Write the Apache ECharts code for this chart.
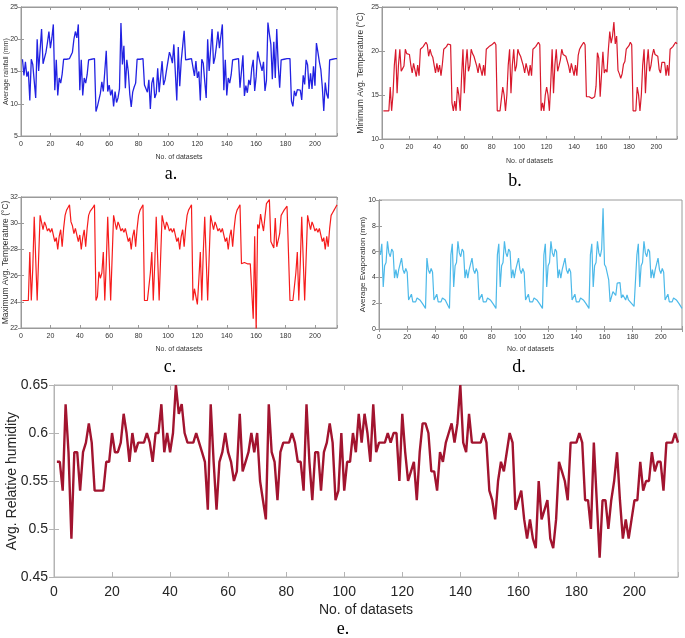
<!DOCTYPE html>
<html>
<head>
<meta charset="utf-8">
<title>Weather datasets</title>
<script src="https://cdn.jsdelivr.net/npm/echarts@6/dist/echarts.min.js"></script>
<style>
  html, body { margin: 0; padding: 0; background: #fff; }
  #chart { width: 685px; height: 638px; }
</style>
</head>
<body>
<div id="chart"></div>
<script>
// values, dataset no. 1..215
const rainfall = [
  16.9, 14.4, 16.5, 14.2, 15.0, 10.5, 16.9, 16.1, 13.5, 10.9,
  20.0, 15.1, 15.2, 21.6, 16.2, 17.1, 18.0, 19.5, 21.2, 18.6,
  20.2, 22.3, 12.1, 16.8, 11.3, 14.0, 13.2, 14.6, 16.9, 16.9,
  16.9, 17.0, 17.0, 17.0, 18.0, 20.0, 21.2, 20.2, 22.3, 12.1,
  16.8, 11.3, 14.0, 13.2, 14.5, 16.8, 16.9, 16.9, 17.0, 17.0,
  8.8, 9.6, 10.6, 11.6, 13.4, 11.9, 15.0, 18.2, 11.9, 12.9,
  11.3, 12.2, 9.6, 11.9, 10.2, 10.9, 12.3, 22.5, 16.1, 19.0,
  12.4, 16.8, 15.0, 11.5, 9.5, 11.8, 12.6, 13.2, 16.9, 16.9,
  16.9, 17.0, 17.0, 12.9, 12.8, 11.8, 13.7, 9.2, 13.2, 14.1,
  10.9, 11.6, 15.5, 11.8, 12.0, 16.6, 12.9, 13.7, 15.2, 16.6,
  18.0, 17.3, 16.3, 19.2, 19.4, 10.5, 18.8, 12.7, 16.6, 16.5,
  21.3, 16.8, 16.9, 16.9, 16.9, 17.0, 17.0, 14.3, 16.6, 14.0,
  15.0, 10.5, 16.9, 16.3, 13.5, 10.9, 20.0, 15.1, 15.2, 21.6,
  16.2, 17.2, 19.0, 21.2, 18.6, 20.5, 22.3, 12.1, 16.8, 11.3,
  14.0, 13.2, 14.5, 16.8, 16.9, 16.9, 17.0, 17.0, 12.5, 12.8,
  17.5, 11.2, 12.8, 11.7, 13.7, 12.9, 15.5, 16.8, 12.0, 14.2,
  18.1, 17.0, 16.9, 15.1, 16.5, 12.0, 13.6, 22.6, 20.8, 19.2,
  13.8, 19.6, 14.0, 21.6, 16.0, 12.5, 16.8, 16.9, 16.9, 17.0,
  17.0, 17.0, 17.0, 10.4, 9.6, 12.0, 11.2, 12.2, 11.9, 12.1,
  10.6, 14.4, 13.0, 16.8, 16.0, 12.3, 14.7, 12.3, 15.8, 12.8,
  19.4, 18.0, 16.5, 15.3, 12.6, 8.9, 13.3, 11.5, 10.8, 16.8,
  16.9, 16.9, 16.9, 17.0, 17.0
];

const minTemp = [
  13.2, 13.2, 13.2, 13.2, 13.2, 15.9, 13.2, 15.0, 18.4, 20.2,
  15.2, 18.4, 20.2, 17.7, 18.0, 18.3, 20.2, 19.7, 19.5, 19.6,
  18.4, 17.5, 18.6, 18.8, 17.1, 18.4, 17.2, 20.2, 20.3, 20.5,
  20.7, 21.0, 20.7, 19.4, 20.2, 19.6, 19.3, 18.4, 17.5, 18.6,
  17.6, 18.4, 17.2, 18.5, 20.2, 20.4, 20.5, 20.8, 21.0, 20.7,
  14.1, 13.2, 14.3, 13.2, 15.9, 15.0, 13.2, 17.1, 20.2, 15.2,
  18.4, 20.2, 17.7, 18.3, 20.2, 19.7, 19.4, 19.5, 18.3, 17.5,
  18.6, 18.7, 17.2, 18.4, 17.2, 20.2, 20.3, 20.5, 20.6, 20.7,
  20.8, 21.0, 20.7, 13.2, 13.2, 13.2, 13.2, 15.9, 15.0, 13.2,
  15.0, 18.4, 20.2, 15.2, 18.4, 20.2, 17.7, 18.3, 20.2, 19.7,
  19.4, 19.5, 18.3, 17.5, 18.6, 18.7, 17.2, 18.4, 17.2, 20.2,
  20.3, 20.5, 20.7, 21.0, 20.7, 13.2, 14.1, 13.2, 15.0, 15.9,
  15.0, 13.2, 16.4, 20.2, 15.2, 18.4, 20.2, 17.7, 18.3, 19.0,
  20.2, 19.6, 19.5, 19.4, 19.6, 18.3, 17.5, 18.6, 18.7, 17.2,
  18.4, 17.2, 19.5, 20.2, 20.5, 20.7, 21.0, 20.7, 14.8, 14.8,
  14.8, 14.7, 14.6, 14.6, 14.8, 16.0, 19.8, 19.2, 14.8, 14.7,
  19.9, 17.5, 17.9, 17.6, 20.2, 22.2, 20.9, 21.7, 23.3, 20.8,
  21.7, 17.8, 17.4, 16.9, 17.4, 18.5, 18.8, 20.2, 20.4, 20.6,
  21.0, 20.7, 13.2, 13.2, 13.2, 15.9, 15.0, 13.2, 15.0, 18.4,
  20.2, 15.2, 18.4, 20.2, 17.7, 18.3, 19.5, 20.2, 19.6, 19.5,
  19.4, 17.9, 17.5, 18.7, 18.6, 18.7, 17.2, 18.4, 17.2, 20.2,
  20.3, 20.5, 20.7, 21.0, 20.8
];

const maxTemp = [
  24.1, 24.1, 24.1, 24.1, 24.1, 27.8, 24.1, 26.5, 30.5, 30.5,
  24.1, 24.1, 30.6, 30.7, 29.5, 30.1, 29.8, 29.4, 29.6, 29.3,
  29.6, 29.5, 28.6, 28.9, 28.0, 29.0, 29.5, 28.2, 29.6, 30.6,
  31.0, 31.2, 31.4, 30.1, 29.8, 29.2, 29.6, 29.6, 28.6, 29.1,
  28.0, 28.9, 29.5, 28.2, 29.6, 30.6, 30.9, 31.0, 31.2, 31.4,
  24.1, 24.4, 26.3, 25.8, 26.2, 27.8, 24.1, 26.9, 30.5, 30.5,
  24.1, 24.1, 30.6, 30.7, 29.5, 30.1, 29.8, 29.4, 29.6, 29.3,
  29.6, 29.5, 28.6, 28.9, 28.0, 29.0, 29.5, 28.2, 29.6, 30.6,
  31.0, 31.2, 31.4, 24.1, 24.1, 24.1, 24.1, 26.2, 27.8, 24.1,
  26.9, 30.5, 30.5, 24.1, 24.1, 30.6, 30.7, 29.5, 30.1, 29.8,
  29.4, 29.6, 29.3, 29.6, 29.5, 28.6, 28.9, 28.0, 29.0, 29.5,
  28.2, 29.6, 30.6, 31.0, 31.2, 31.4, 24.1, 25.0, 24.4, 23.8,
  25.7, 27.8, 24.1, 27.7, 30.5, 30.5, 24.1, 24.1, 30.6, 30.7,
  29.5, 30.1, 29.8, 29.4, 29.6, 29.3, 29.6, 29.5, 28.6, 28.9,
  28.0, 29.0, 29.5, 28.2, 29.6, 30.6, 31.0, 31.2, 31.4, 26.9,
  26.9, 27.0, 27.1, 26.9, 26.9, 26.9, 26.8, 22.7, 29.0, 21.8,
  29.9, 29.6, 30.7, 30.0, 29.4, 30.5, 31.5, 31.5, 31.8, 28.6,
  28.5, 28.1, 30.4, 28.2, 28.3, 29.2, 30.6, 30.8, 31.0, 31.1,
  31.3, 31.4, 24.1, 24.1, 24.1, 24.1, 26.2, 27.8, 24.1, 26.9,
  30.5, 30.5, 24.1, 24.1, 30.6, 30.7, 29.5, 30.1, 29.8, 29.4,
  29.6, 29.3, 29.6, 29.5, 28.6, 28.9, 28.0, 29.0, 28.2, 29.6,
  30.6, 30.8, 31.0, 31.2, 31.4
];

const evaporation = [
  5.75, 6.6, 3.25, 4.9, 5.15, 6.8, 5.9, 5.6, 6.2, 6.0,
  3.95, 4.6, 3.95, 4.6, 4.7, 5.5, 4.6, 4.3, 4.7, 4.4,
  2.25, 2.1, 2.7, 2.1, 2.25, 2.1, 2.4, 2.4, 2.25, 2.1,
  1.95, 1.8, 1.6, 5.5, 4.6, 4.3, 4.7, 4.4, 2.25, 2.1,
  2.7, 2.1, 2.25, 2.1, 2.4, 2.4, 2.25, 2.1, 1.8, 1.6,
  5.75, 6.6, 3.25, 4.9, 5.15, 6.8, 5.9, 5.6, 6.2, 6.0,
  3.95, 4.6, 3.95, 4.6, 4.7, 5.5, 4.6, 4.3, 4.7, 4.4,
  2.25, 2.1, 2.7, 2.1, 2.25, 2.1, 2.4, 2.4, 2.25, 2.1,
  1.95, 1.8, 1.6, 5.75, 6.6, 3.25, 4.9, 5.15, 6.8, 5.9,
  5.6, 6.2, 6.0, 3.95, 4.6, 3.95, 4.6, 4.7, 5.5, 4.6,
  4.3, 4.7, 4.4, 2.25, 2.1, 2.7, 2.1, 2.25, 2.1, 2.4,
  2.4, 2.25, 2.1, 1.95, 1.8, 1.6, 5.75, 6.6, 3.25, 4.9,
  5.15, 6.8, 5.9, 5.6, 6.2, 6.0, 3.95, 4.6, 3.95, 4.6,
  4.7, 5.5, 4.6, 4.3, 4.7, 4.4, 2.25, 2.1, 2.7, 2.1,
  2.25, 2.1, 2.4, 2.4, 2.25, 2.1, 1.95, 1.8, 1.6, 5.75,
  6.6, 3.25, 4.9, 5.15, 6.8, 5.9, 5.6, 6.2, 9.35, 5.0,
  4.8, 4.7, 3.8, 2.1, 2.1, 2.9, 2.9, 2.6, 3.55, 3.6,
  3.6, 2.4, 2.65, 2.6, 2.25, 2.65, 2.25, 2.1, 2.0, 1.85,
  1.75, 1.6, 5.75, 6.6, 3.25, 4.9, 5.15, 6.8, 5.9, 5.6,
  6.2, 6.0, 3.95, 4.6, 3.95, 4.6, 4.7, 5.5, 4.6, 4.3,
  4.7, 4.4, 2.25, 2.1, 2.7, 2.1, 2.25, 2.1, 2.4, 2.4,
  2.25, 2.1, 1.95, 1.8, 1.6
];

const humidity = [
  0.57, 0.57, 0.54, 0.63, 0.58, 0.49, 0.58, 0.58, 0.54, 0.58,
  0.59, 0.61, 0.59, 0.54, 0.54, 0.54, 0.54, 0.57, 0.57, 0.60,
  0.58, 0.58, 0.59, 0.62, 0.60, 0.57, 0.60, 0.58, 0.59, 0.59,
  0.59, 0.60, 0.59, 0.57, 0.60, 0.60, 0.63, 0.58, 0.60, 0.58,
  0.60, 0.65, 0.62, 0.63, 0.60, 0.59, 0.59, 0.59, 0.60, 0.59,
  0.58, 0.57, 0.52, 0.63, 0.57, 0.52, 0.57, 0.58, 0.60, 0.58,
  0.57, 0.55, 0.56, 0.62, 0.56, 0.57, 0.58, 0.60, 0.58, 0.60,
  0.55, 0.53, 0.51, 0.63, 0.58, 0.57, 0.53, 0.58, 0.59, 0.59,
  0.59, 0.60, 0.59, 0.57, 0.57, 0.54, 0.63, 0.57, 0.53, 0.58,
  0.58, 0.54, 0.58, 0.59, 0.61, 0.59, 0.53, 0.54, 0.60, 0.54,
  0.57, 0.57, 0.60, 0.58, 0.62, 0.59, 0.62, 0.60, 0.57, 0.63,
  0.58, 0.59, 0.59, 0.59, 0.60, 0.59, 0.60, 0.60, 0.55, 0.62,
  0.58, 0.55, 0.56, 0.57, 0.53, 0.58, 0.61, 0.61, 0.60, 0.56,
  0.56, 0.54, 0.58, 0.57, 0.59, 0.60, 0.61, 0.59, 0.61, 0.65,
  0.59, 0.58, 0.62, 0.59, 0.59, 0.59, 0.59, 0.60, 0.59, 0.54,
  0.53, 0.51, 0.55, 0.57, 0.56, 0.58, 0.60, 0.59, 0.52, 0.53,
  0.54, 0.51, 0.49, 0.51, 0.49, 0.48, 0.55, 0.51, 0.52, 0.53,
  0.49, 0.48, 0.51, 0.57, 0.56, 0.55, 0.53, 0.59, 0.59, 0.59,
  0.60, 0.59, 0.53, 0.53, 0.50, 0.59, 0.53, 0.47, 0.53, 0.53,
  0.50, 0.53, 0.55, 0.58, 0.53, 0.49, 0.51, 0.49, 0.51, 0.53,
  0.53, 0.57, 0.54, 0.55, 0.55, 0.58, 0.56, 0.57, 0.57, 0.54,
  0.59, 0.59, 0.59, 0.60, 0.59
];

const xName = 'No. of datasets';
const sans = 'Liberation Sans, Arial, sans-serif';
const serif = 'Liberation Serif, Times New Roman, serif';

// one entry per sub-plot: layout + style only, values come from the arrays above
const panels = [
  { values: rainfall, color: '#2222e2', lw: 1.3, yMin: 5, yMax: 25, yStep: 5,
    yName: 'Average rainfall (mm)', box: { left: 21, top: 7, width: 316, height: 129 },
    tickFont: 7, yNameFont: 7, xNameFont: 7, yNameGap: 11, xNameGap: 18, yMargin: 3, xMargin: 5,
    tickLen: 3, border: '#9a9a9a', label: '#333', caption: 'a.', capX: 171, capY: 174 },
  { values: minTemp, color: '#d8192c', lw: 1.2, yMin: 10, yMax: 25, yStep: 5,
    yName: 'Minimum Avg. Temperature (°C)', box: { left: 382, top: 7, width: 295, height: 132 },
    tickFont: 7, yNameFont: 8.5, xNameFont: 7, yNameGap: 17, xNameGap: 19, yMargin: 3, xMargin: 5,
    tickLen: 3, border: '#9a9a9a', label: '#333', caption: 'b.', capX: 515, capY: 181 },
  { values: maxTemp, color: '#f61c1c', lw: 1.2, yMin: 22, yMax: 32, yStep: 2,
    yName: 'Maximum Avg. Temperature (°C)', box: { left: 21, top: 197, width: 316, height: 131 },
    tickFont: 7, yNameFont: 8.5, xNameFont: 7, yNameGap: 11, xNameGap: 18, yMargin: 3, xMargin: 5,
    tickLen: 3, border: '#9a9a9a', label: '#333', caption: 'c.', capX: 170, capY: 367 },
  { values: evaporation, color: '#4cb9e9', lw: 1.2, yMin: 0, yMax: 10, yStep: 2,
    yName: 'Average Evaporation (mm)', box: { left: 379, top: 200, width: 303, height: 129 },
    tickFont: 7, yNameFont: 8, xNameFont: 7, yNameGap: 12, xNameGap: 17, yMargin: 3, xMargin: 5,
    tickLen: 3, border: '#9a9a9a', label: '#333', caption: 'd.', capX: 519, capY: 367 },
  { values: humidity, color: '#a2142f', lw: 2.4, yMin: 0.45, yMax: 0.65, yStep: 0.05,
    yName: 'Avg. Relative humidity', box: { left: 54, top: 385, width: 624, height: 192 },
    tickFont: 14, yNameFont: 14, xNameFont: 14, yNameGap: 35, xNameGap: 26, yMargin: 6, xMargin: 8,
    tickLen: 5, border: '#b4b4b4', label: '#262626', caption: 'e.', capX: 343, capY: 629 }
];

const grid = [], xAxis = [], yAxis = [], series = [], graphic = [];

panels.forEach((p, k) => {
  // outerBoundsMode none: keep the boxes exactly where the figure has them
  grid.push(Object.assign({
    show: true, borderColor: p.border, borderWidth: 1,
    containLabel: false, outerBoundsMode: 'none'
  }, p.box));

  const line = { show: true, lineStyle: { color: p.border, width: 1 } };
  const tick = { show: true, inside: true, length: p.tickLen, lineStyle: { color: p.border } };
  const none = { show: false };

  xAxis.push({
    type: 'value', gridIndex: k, position: 'bottom', min: 0, max: 215, interval: 20,
    axisLine: line, axisTick: tick, splitLine: none,
    axisLabel: {
      formatter: v => (v % 20 === 0 ? String(v) : ''),
      fontSize: p.tickFont, color: p.label, fontFamily: sans, margin: p.xMargin
    },
    name: xName, nameLocation: 'middle', nameGap: p.xNameGap, nameMoveOverlap: false,
    nameTextStyle: { fontSize: p.xNameFont, color: p.label, fontFamily: sans }
  });
  xAxis.push({
    type: 'value', gridIndex: k, position: 'top', min: 0, max: 215, interval: 20,
    axisLine: line, axisTick: tick, splitLine: none, axisLabel: none
  });

  yAxis.push({
    type: 'value', gridIndex: k, position: 'left', min: p.yMin, max: p.yMax, interval: p.yStep,
    axisLine: line, axisTick: tick, splitLine: none,
    axisLabel: { fontSize: p.tickFont, color: p.label, fontFamily: sans, margin: p.yMargin },
    name: p.yName, nameLocation: 'middle', nameGap: p.yNameGap, nameMoveOverlap: false,
    nameTextStyle: { fontSize: p.yNameFont, color: p.label, fontFamily: sans }
  });
  yAxis.push({
    type: 'value', gridIndex: k, position: 'right', min: p.yMin, max: p.yMax, interval: p.yStep,
    axisLine: line, axisTick: tick, splitLine: none, axisLabel: none
  });

  series.push({
    type: 'line', xAxisIndex: 2 * k, yAxisIndex: 2 * k,
    data: p.values.map((v, i) => [i + 1, v]),
    showSymbol: false, symbol: 'none', silent: true,
    lineStyle: { color: p.color, width: p.lw },
    itemStyle: { color: p.color }
  });

  graphic.push({
    type: 'text', x: p.capX, y: p.capY, silent: true,
    style: {
      text: p.caption, font: '18px ' + serif, fill: '#000',
      textAlign: 'center', textVerticalAlign: 'middle', align: 'center', verticalAlign: 'middle'
    }
  });
});

const chart = echarts.init(document.getElementById('chart'), null, { renderer: 'canvas' });
chart.setOption({
  backgroundColor: '#fff',
  animation: false,
  grid, xAxis, yAxis, series, graphic
});
</script>
</body>
</html>
